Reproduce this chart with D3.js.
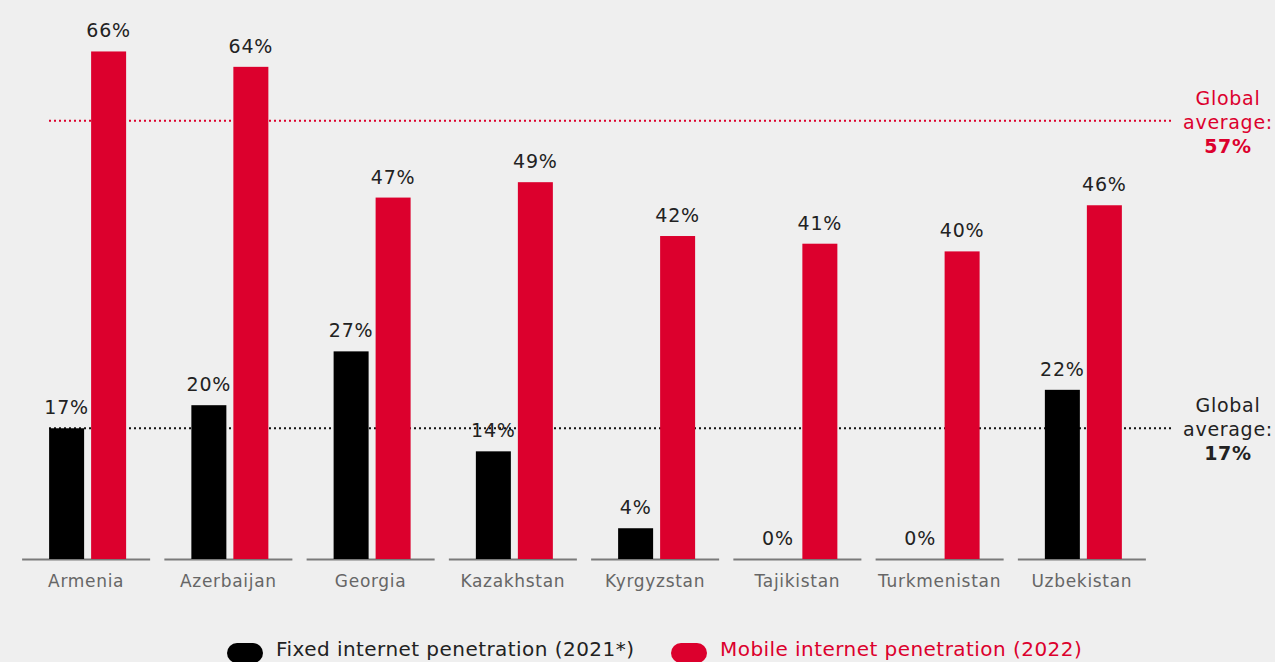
<!DOCTYPE html>
<html lang="en">
<head>
  <meta charset="UTF-8">
  <title>Internet penetration</title>
  <style>
    html, body { margin: 0; padding: 0; background: #efefef; }
    svg { display: block; font-family: "DejaVu Sans", sans-serif; }
  </style>
  <script src="https://d3js.org/d3.v7.min.js"></script>
</head>
<body>
  <div id="chart"></div>
  <script>
    const countries = ["Armenia", "Azerbaijan", "Georgia", "Kazakhstan", "Kyrgyzstan", "Tajikistan", "Turkmenistan", "Uzbekistan"];
    const fixedValues = [17, 20, 27, 14, 4, 0, 0, 22];
    const mobileValues = [66, 64, 47, 49, 42, 41, 40, 46];
    const seriesNames = ["Fixed internet penetration (2021*)", "Mobile internet penetration (2022)"];
    const globalFixed = 17;
    const globalMobile = 57;

    const red = "#dc002d";
    const width = 1275, height = 662;
    const baseY = 559;

    const svg = d3.select("#chart")
      .append("svg")
      .attr("width", width)
      .attr("height", height);

    svg.append("rect").attr("width", width).attr("height", height).attr("fill", "#efefef");

    const x = d3.scaleBand()
      .domain(countries)
      .range([15, 1153])
      .paddingInner(0.1)
      .paddingOuter(0.05);

    const xSub = d3.scaleBand()
      .domain(["fixed", "mobile"])
      .range([27, 104])
      .paddingInner(1 / 6);

    const y = d3.scaleLinear()
      .domain([0, 100])
      .range([baseY, baseY - 769]);

    const rows = countries.map((c, i) => ({ country: c, fixed: fixedValues[i], mobile: mobileValues[i] }));

    // global average lines (behind bars)
    const avgLines = [
      { v: globalMobile, color: red },
      { v: globalFixed, color: "#111" }
    ];
    svg.selectAll(".avg")
      .data(avgLines)
      .enter()
      .append("line")
      .attr("x1", 49)
      .attr("x2", 1172)
      .attr("y1", d => y(d.v))
      .attr("y2", d => y(d.v))
      .attr("stroke", d => d.color)
      .attr("stroke-width", 2)
      .attr("stroke-dasharray", "2,3");

    // baseline segments
    svg.selectAll(".base")
      .data(countries)
      .enter()
      .append("line")
      .attr("x1", d => x(d))
      .attr("x2", d => x(d) + x.bandwidth())
      .attr("y1", baseY + 0.5)
      .attr("y2", baseY + 0.5)
      .attr("stroke", "#7a7a7a")
      .attr("stroke-width", 2);

    const groups = svg.selectAll(".group")
      .data(rows)
      .enter()
      .append("g")
      .attr("transform", d => `translate(${x(d.country)},0)`);

    const series = [
      { key: "fixed", color: "#000" },
      { key: "mobile", color: red }
    ];

    series.forEach(s => {
      groups.append("rect")
        .attr("x", xSub(s.key))
        .attr("y", d => y(d[s.key]))
        .attr("width", xSub.bandwidth())
        .attr("height", d => baseY - y(d[s.key]))
        .attr("fill", s.color);

      groups.append("text")
        .attr("x", xSub(s.key) + xSub.bandwidth() / 2)
        .attr("y", d => y(d[s.key]) - 14)
        .attr("text-anchor", "middle")
        .attr("font-size", 19)
        .attr("letter-spacing", 0.8)
        .attr("fill", "#222")
        .text(d => d[s.key] + "%");
    });

    // country labels
    svg.selectAll(".country")
      .data(countries)
      .enter()
      .append("text")
      .attr("x", d => x(d) + x.bandwidth() / 2)
      .attr("y", 587)
      .attr("text-anchor", "middle")
      .attr("font-size", 17)
      .attr("letter-spacing", 0.7)
      .attr("fill", "#666")
      .text(d => d);

    // global average annotations
    const notes = [
      { v: globalMobile, color: red },
      { v: globalFixed, color: "#222" }
    ];
    notes.forEach(n => {
      const t = svg.append("text")
        .attr("text-anchor", "middle")
        .attr("font-size", 19)
        .attr("letter-spacing", 0.7)
        .attr("fill", n.color);
      t.append("tspan").attr("x", 1228).attr("y", y(n.v) - 16).text("Global");
      t.append("tspan").attr("x", 1228).attr("y", y(n.v) + 8).text("average:");
      t.append("tspan").attr("x", 1228).attr("y", y(n.v) + 32).attr("font-weight", "bold").text(n.v + "%");
    });

    // legend
    const legend = [
      { name: seriesNames[0], color: "#000", text: "#222", x: 227 },
      { name: seriesNames[1], color: red, text: red, x: 671 }
    ];
    legend.forEach(l => {
      svg.append("rect")
        .attr("x", l.x)
        .attr("y", 643)
        .attr("width", 36)
        .attr("height", 20)
        .attr("rx", 10)
        .attr("fill", l.color);
      svg.append("text")
        .attr("x", l.x + 49)
        .attr("y", 656)
        .attr("font-size", 20)
        .attr("letter-spacing", 0.45)
        .attr("fill", l.text)
        .text(l.name);
    });
  </script>
</body>
</html>
